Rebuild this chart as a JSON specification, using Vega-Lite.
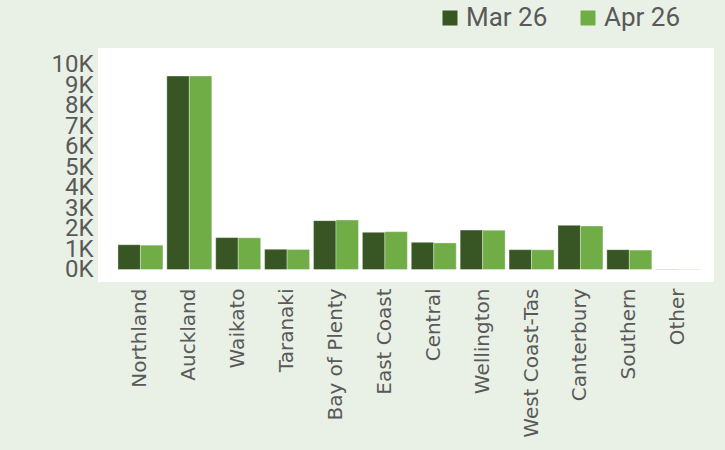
{
  "$schema": "https://vega.github.io/schema/vega-lite/v6.json",
  "width": 616,
  "height": 234,
  "autosize": {"type": "none"},
  "padding": {"left": 98, "top": 48, "right": 11, "bottom": 168},
  "background": "#E9F1E6",
  "config": {"view": {"fill": "white", "stroke": null}},
  "data": {"values": [
    {"region": "Northland", "series": "Mar 26", "value": 1210},
    {"region": "Northland", "series": "Apr 26", "value": 1190},
    {"region": "Auckland", "series": "Mar 26", "value": 9460},
    {"region": "Auckland", "series": "Apr 26", "value": 9460},
    {"region": "Waikato", "series": "Mar 26", "value": 1560},
    {"region": "Waikato", "series": "Apr 26", "value": 1550},
    {"region": "Taranaki", "series": "Mar 26", "value": 990},
    {"region": "Taranaki", "series": "Apr 26", "value": 980},
    {"region": "Bay of Plenty", "series": "Mar 26", "value": 2390},
    {"region": "Bay of Plenty", "series": "Apr 26", "value": 2420},
    {"region": "East Coast", "series": "Mar 26", "value": 1820},
    {"region": "East Coast", "series": "Apr 26", "value": 1850},
    {"region": "Central", "series": "Mar 26", "value": 1330},
    {"region": "Central", "series": "Apr 26", "value": 1300},
    {"region": "Wellington", "series": "Mar 26", "value": 1930},
    {"region": "Wellington", "series": "Apr 26", "value": 1920},
    {"region": "West Coast-Tas", "series": "Mar 26", "value": 970},
    {"region": "West Coast-Tas", "series": "Apr 26", "value": 965},
    {"region": "Canterbury", "series": "Mar 26", "value": 2160},
    {"region": "Canterbury", "series": "Apr 26", "value": 2130},
    {"region": "Southern", "series": "Mar 26", "value": 970},
    {"region": "Southern", "series": "Apr 26", "value": 950},
    {"region": "Other", "series": "Mar 26", "value": 15},
    {"region": "Other", "series": "Apr 26", "value": 15}
  ]},
  "mark": {"type": "bar", "stroke": "#ffffff", "strokeWidth": 1, "strokeOpacity": 0.35},
  "encoding": {
    "x": {
      "field": "region", "type": "nominal", "sort": null,
      "scale": {"paddingInner": 0.08, "paddingOuter": 0.34, "align": 0.6},
      "axis": {"title": null, "labelAngle": -90, "labelPadding": 6, "ticks": false, "domain": false,
               "labelFont": "DejaVu Sans", "labelFontSize": 20, "labelColor": "#595959", "labelLimit": 300}
    },
    "xOffset": {"field": "series", "type": "nominal", "sort": ["Mar 26", "Apr 26"],
      "scale": {"paddingInner": 0, "paddingOuter": 0}},
    "y": {
      "field": "value", "type": "quantitative",
      "scale": {"domain": [-611, 10831], "nice": false, "zero": false},
      "axis": {"title": null, "values": [0,1000,2000,3000,4000,5000,6000,7000,8000,9000,10000],
               "labelExpr": "datum.value/1000 + 'K'", "labelOverlap": false, "labelBound": false, "labelFlush": false,
               "ticks": false, "domain": false, "grid": false, "labelPadding": 5,
               "labelFont": "Roboto", "labelFontSize": 24, "labelColor": "#595959"}
    },
    "color": {
      "field": "series", "type": "nominal", "sort": ["Mar 26", "Apr 26"],
      "scale": {"domain": ["Mar 26", "Apr 26"], "range": ["#375623", "#70AD47"]},
      "legend": {"title": null, "orient": "none", "direction": "horizontal", "legendX": 339, "legendY": -43,
                 "symbolType": "square", "symbolSize": 225, "symbolStrokeWidth": 0, "symbolOpacity": 1,
                 "labelFont": "Roboto", "labelFontSize": 26, "labelColor": "#595959", "labelOffset": 3,
                 "columnPadding": 27}
    }
  }
}
